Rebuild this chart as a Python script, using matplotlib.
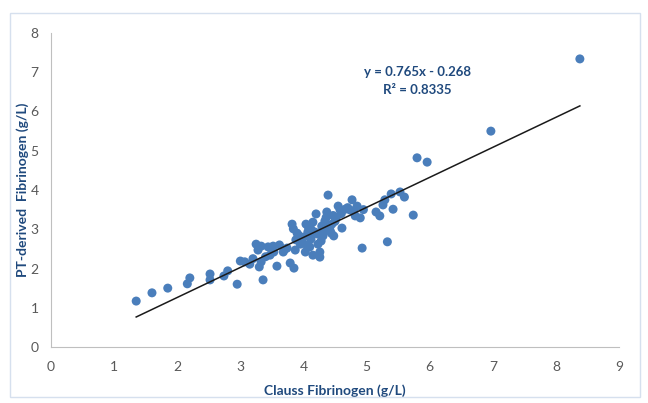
import matplotlib
matplotlib.use("Agg")
import matplotlib.pyplot as plt
import numpy as np
from matplotlib.patches import Rectangle

clauss = [1.35, 1.60, 1.85, 2.16, 2.20, 2.52, 2.52, 2.74, 2.80, 2.95,
          3.00, 3.07, 3.15, 3.25, 3.28, 3.33, 3.30, 3.33, 3.36, 3.44,
          3.47, 3.52, 3.53, 3.58, 3.68, 3.74, 3.79, 3.82, 3.84, 3.85,
          3.88, 3.87, 3.95, 4.00, 4.04, 4.07, 4.03, 4.12, 4.10, 4.15,
          4.18, 4.20, 4.23, 4.26, 4.29, 4.31, 4.34, 4.37, 4.39, 4.42,
          4.45, 4.48, 4.52, 4.55, 4.58, 4.61, 4.66, 4.74, 4.77, 4.82,
          4.85, 4.90, 4.93, 5.15, 5.21, 5.26, 5.29, 5.33, 5.39, 5.42,
          5.53, 5.60, 5.74, 5.80, 5.96, 6.97, 8.38,
          4.15, 4.26, 4.08, 4.22, 4.33, 4.40, 4.50, 3.92, 3.98, 4.12,
          4.28, 4.36, 4.44, 4.05, 3.70, 3.62, 3.40, 3.20, 4.60, 4.70,
          4.80, 4.95, 4.47, 4.13, 3.90]
pt_derived = [1.17, 1.38, 1.50, 1.61, 1.76, 1.86, 1.71, 1.81, 1.94, 1.60,
              2.19, 2.17, 2.11, 2.62, 2.47, 2.57, 2.04, 2.17, 1.71, 2.55,
              2.34, 2.57, 2.42, 2.06, 2.42, 2.52, 2.14, 3.13, 3.01, 2.01,
              2.73, 2.47, 2.62, 2.80, 3.13, 2.93, 2.42, 2.75, 2.55, 3.18,
              2.93, 3.39, 2.62, 2.42, 3.08, 2.83, 3.21, 3.44, 3.87, 2.98,
              3.13, 2.83, 3.29, 3.59, 3.49, 3.03, 3.51, 3.49, 3.75, 3.34,
              3.59, 3.29, 2.52, 3.44, 3.34, 3.62, 3.75, 2.68, 3.90, 3.51,
              3.95, 3.82, 3.36, 4.82, 4.71, 5.50, 7.34,
              2.34, 2.29, 3.05, 2.88, 2.95, 3.10, 3.20, 2.85, 2.68, 3.00,
              2.70, 3.30, 2.90, 2.60, 2.48, 2.60, 2.30, 2.25, 3.40, 3.55,
              3.45, 3.50, 3.35, 2.95, 2.90]

slope = 0.765
intercept = -0.268
equation_text = "y = 0.765x - 0.268"
r2_text = "R² = 0.8335"

x_ticks = list(range(0, 10))
y_ticks = list(range(0, 9))

plt.rcParams['font.family'] = ['Lato', 'DejaVu Sans']

fig = plt.figure(figsize=(6.48, 4.03), dpi=100)
fig.patches.append(Rectangle((10/648, 1-397/403), 630/648, 384/403,
                             transform=fig.transFigure, fill=False,
                             edgecolor='#d6e0ee', linewidth=1.0))

ax = fig.add_axes([51/648, 1-347/403, 568/648, 314/403])
ax.scatter(clauss, pt_derived, s=42, color='#4a7ebb', edgecolors='none', zorder=3)

xs = np.array([min(clauss), max(clauss)])
ax.plot(xs, slope*xs + intercept, color='#1a1a1a', linewidth=1.1, zorder=4)

ax.set_xlim(0, 9)
ax.set_ylim(0, 8)
ax.set_xticks(x_ticks)
ax.set_yticks(y_ticks)
ax.tick_params(axis='x', length=0, labelsize=10, colors='#595959', pad=10)
ax.tick_params(axis='y', length=0, labelsize=10, colors='#595959', pad=9)
for s in ['top', 'right']:
    ax.spines[s].set_visible(False)
for s in ['left', 'bottom']:
    ax.spines[s].set_color('#bfbfbf')
    ax.spines[s].set_linewidth(0.8)

ax.set_xlabel("Clauss Fibrinogen (g/L)", fontsize=10, fontweight='bold',
              color='#1f497d', labelpad=8)
ax.set_ylabel("PT-derived  Fibrinogen (g/L)", fontsize=10, fontweight='bold',
              color='#1f497d', labelpad=1)

ax.text(5.8, 7.0, equation_text, ha='center', va='center', fontsize=9.5,
        fontweight='bold', color='#1f497d')
ax.text(5.8, 6.55, r2_text, ha='center', va='center', fontsize=9.5,
        fontweight='bold', color='#1f497d')

fig.savefig("out.png", dpi=100)
